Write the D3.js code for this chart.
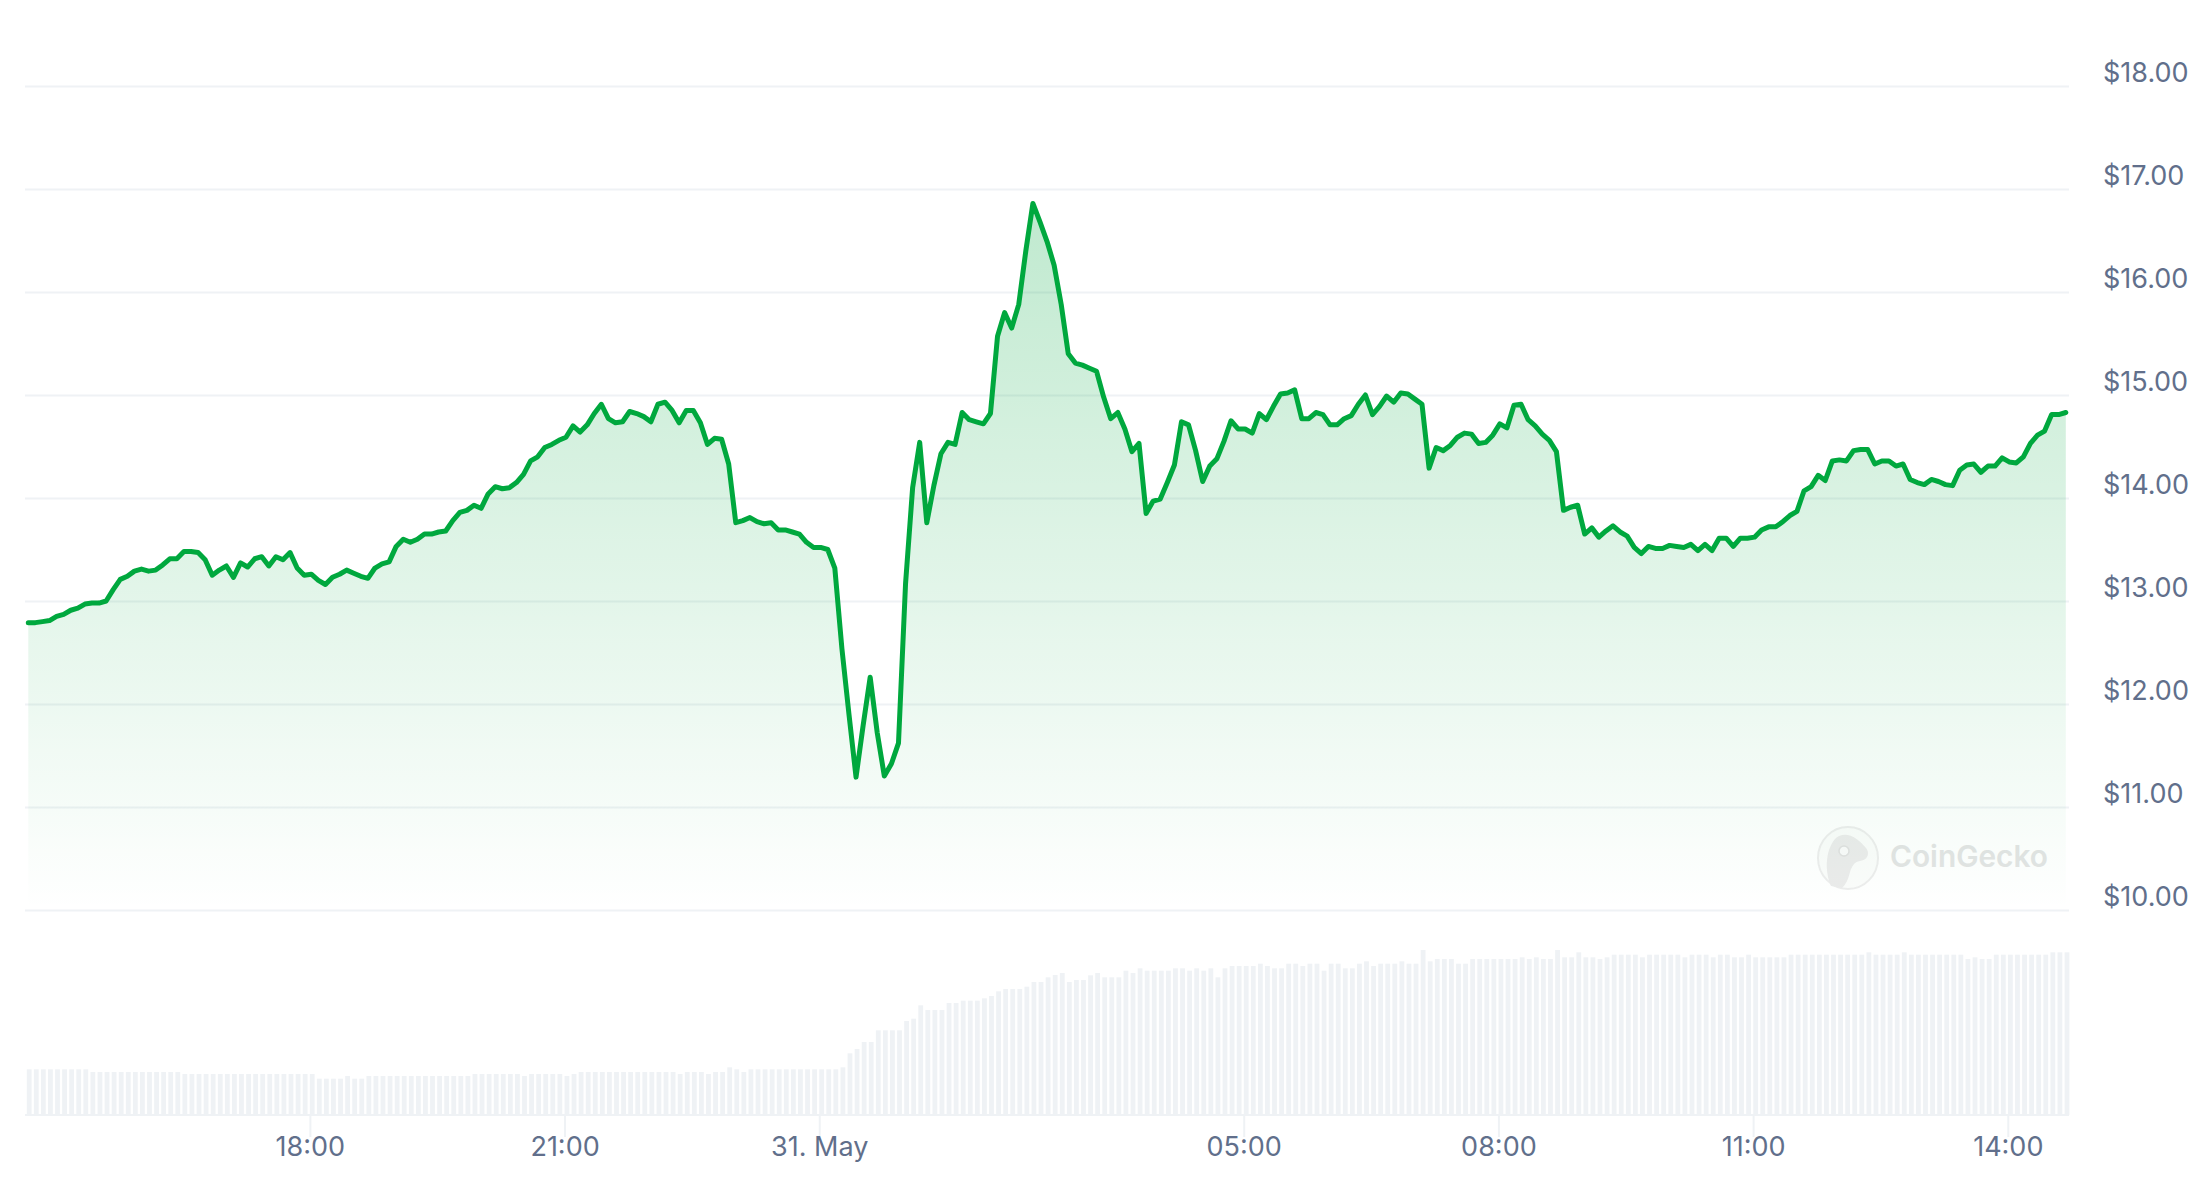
<!DOCTYPE html>
<html>
<head>
<meta charset="utf-8">
<script src="https://cdn.jsdelivr.net/npm/d3@7/dist/d3.min.js"></script>
<style>
html,body{margin:0;padding:0;background:#fff;}
svg{display:block;}
text{font-family:Inter,"Noto Sans",sans-serif;}
</style>
</head>
<body>
<svg id="chart" width="2206" height="1184"></svg>
<script>
const priceTicks = [10,11,12,13,14,15,16,17,18];
const timeTickLabels = ["18:00","21:00","31. May","05:00","08:00","11:00","14:00"];
const timeTickDates = [
  new Date(2024,4,30,18,0), new Date(2024,4,30,21,0), new Date(2024,4,31,0,0),
  new Date(2024,4,31,5,0), new Date(2024,4,31,8,0), new Date(2024,4,31,11,0), new Date(2024,4,31,14,0)
];
const startTime = new Date(2024,4,30,14,41);
const stepMinutes = 5;

const prices = [
12.79,12.79,12.80,12.81,12.85,12.87,12.91,12.93,12.97,12.98,
12.98,13.00,13.11,13.21,13.24,13.29,13.31,13.29,13.30,13.35,
13.41,13.41,13.48,13.48,13.47,13.40,13.25,13.30,13.34,13.23,
13.37,13.33,13.41,13.43,13.34,13.43,13.40,13.47,13.32,13.25,
13.26,13.20,13.16,13.23,13.26,13.30,13.27,13.24,13.22,13.32,
13.36,13.38,13.53,13.60,13.57,13.60,13.65,13.65,13.67,13.68,
13.78,13.86,13.88,13.93,13.90,14.04,14.11,14.09,14.10,14.15,
14.23,14.36,14.40,14.49,14.52,14.56,14.59,14.70,14.64,14.71,
14.82,14.91,14.77,14.73,14.74,14.84,14.82,14.79,14.74,14.91,
14.93,14.85,14.73,14.85,14.85,14.73,14.52,14.58,14.57,14.33,
13.76,13.78,13.81,13.77,13.75,13.76,13.69,13.69,13.67,13.65,
13.57,13.52,13.52,13.50,13.32,12.54,11.90,11.29,11.79,12.26,
11.72,11.30,11.42,11.62,13.17,14.10,14.54,13.76,14.12,14.43,
14.54,14.52,14.83,14.76,14.74,14.72,14.82,15.57,15.80,15.65,
15.88,16.40,16.86,16.68,16.49,16.26,15.88,15.40,15.31,15.29,
15.26,15.23,14.98,14.77,14.83,14.67,14.45,14.53,13.85,13.97,
13.99,14.15,14.32,14.74,14.71,14.46,14.16,14.31,14.38,14.55,
14.75,14.67,14.67,14.63,14.82,14.76,14.89,15.01,15.02,15.05,
14.77,14.77,14.83,14.81,14.71,14.71,14.77,14.80,14.91,15.00,
14.81,14.89,14.99,14.93,15.02,15.01,14.96,14.91,14.29,14.49,
14.46,14.51,14.59,14.63,14.62,14.53,14.54,14.61,14.72,14.68,
14.90,14.91,14.76,14.70,14.62,14.56,14.45,13.88,13.91,13.93,
13.65,13.71,13.62,13.68,13.73,13.67,13.63,13.52,13.46,13.53,
13.51,13.51,13.54,13.53,13.52,13.55,13.49,13.55,13.49,13.61,
13.61,13.53,13.61,13.61,13.62,13.69,13.72,13.72,13.77,13.83,
13.87,14.07,14.11,14.22,14.17,14.36,14.37,14.36,14.46,14.47,
14.47,14.33,14.36,14.36,14.31,14.33,14.18,14.15,14.13,14.18,
14.16,14.13,14.12,14.27,14.32,14.33,14.25,14.31,14.31,14.39,
14.35,14.34,14.40,14.53,14.61,14.65,14.81,14.81,14.83
];

const volumes = [
45.7,45.7,45.7,45.7,45.7,45.7,45.7,45.7,45.7,43,
43,43,43,43,43,43,43,43,43,43,
43,43,41,41,41,41,41,41,41,41,
41,41,41,41,41,41,41,41,41,41,
41,36.3,36.3,36.3,36.3,39,36.3,36.3,39,39,
39,39,39,39,39,39,39,39,39,39,
39,39,39,41,41,41,41,41,41,41,
39,41,41,41,41,41,39,41,43,43,
43,43,43,43,43,43,43,43,43,43,
43,43,41,43,43,43,41,43,43,47.7,
45.7,43,45.7,45.7,45.7,45.7,45.7,45.7,45.7,45.7,
45.7,45.7,45.7,45.7,45.7,47.7,61.7,66,73,73,
84.7,84.7,84.7,84.7,94,96.3,109.7,105,105,105,
112,112,114.3,114.3,114.3,116.7,119,123.7,126,126,
126,128.3,133,133,137.7,140,142,133,135,135,
139.7,142,137.7,137.7,137.7,144.3,142,146.7,144.3,144.3,
144.3,144.3,146.7,146.7,144.3,146.7,144.3,146.7,137.7,146.7,
149,149,149,149,151.3,149,146.7,146.7,151.3,151.3,
149,151.3,151.3,144.3,151.3,151.3,146.7,146.7,151.3,153.7,
149,151.3,151.3,151.3,153.7,151.3,151.3,165,153.7,156,
156,156,151.3,151.3,156,156,156,156,156,156,
156,157.7,156,157.7,156,156,165,157.7,157.7,162.7,
157.7,157.7,156,157.7,160.3,160.3,160.3,160.3,157.7,160.3,
160.3,160.3,160.3,160.3,157.7,160.3,160.3,160.3,157.7,160.3,
160.3,157.7,157.7,160.3,157.7,157.7,157.7,157.7,157.7,160.3,
160.3,160.3,160.3,160.3,160.3,160.3,160.3,160.3,160.3,160.3,
162.7,160.3,160.3,160.3,160.3,162.7,160.3,160.3,160.3,160.3,
160.3,160.3,160.3,160.3,156,157.7,156,156,160.3,160.3,
160.3,160.3,160.3,160.3,160.3,160.3,162.7,162.7,162.7
];

const times = prices.map((_, i) => new Date(+startTime + i * stepMinutes * 60000));

const COL = {line:"#00a83e", grid:"#eff2f5", text:"#616f8b", bar:"#eff2f5"};
const svg = d3.select("#chart");

const x = d3.scaleTime().domain([times[0], times[times.length-1]]).range([28.3, 2065.8]);
const y = d3.scaleLinear().domain([10,18]).range([910,86]);
const barX = d3.scaleLinear().domain([0, volumes.length-1]).range([29.2, 2067]);
const volBase = 1115;
const v = d3.scaleLinear().domain([0,165]).range([volBase, volBase-165]);

// gradient
const defs = svg.append("defs");
const grad = defs.append("linearGradient").attr("id","areaGrad")
  .attr("gradientUnits","userSpaceOnUse").attr("x1",0).attr("x2",0)
  .attr("y1",y(d3.max(prices))).attr("y2",y(10));
grad.append("stop").attr("offset",0).attr("stop-color",COL.line).attr("stop-opacity",0.25);
grad.append("stop").attr("offset",1).attr("stop-color",COL.line).attr("stop-opacity",0.0);

// grid
const gridG = svg.append("g").attr("transform","translate(25,0)")
  .call(d3.axisRight(y).tickValues(priceTicks).tickSize(2044).tickFormat(""));
gridG.select(".domain").remove();
gridG.selectAll(".tick line").attr("stroke",COL.grid).attr("stroke-width",2);

// y labels
const yLabels = svg.append("g").attr("transform","translate(2103,0)")
  .call(d3.axisRight(y).tickValues(priceTicks).tickSize(0).tickPadding(0)
    .tickFormat(d => "$" + d3.format(".2f")(d)));
yLabels.select(".domain").remove();
yLabels.selectAll("text").attr("text-anchor","start").attr("fill",COL.text)
  .attr("font-size",27).attr("dy","-5px").style("font-family","Inter,sans-serif");

// volume bars
svg.append("g").selectAll("rect").data(volumes).join("rect")
  .attr("x",(d,i)=>barX(i)-2.4).attr("width",4.8)
  .attr("y",d=>v(d)).attr("height",d=>volBase-v(d))
  .attr("fill",COL.bar);

// x axis
const xAxis = svg.append("g").attr("transform",`translate(0,${volBase})`)
  .call(d3.axisBottom(x).tickValues(timeTickDates).tickSize(22).tickPadding(0)
    .tickFormat((d,i)=>timeTickLabels[i]));
xAxis.select(".domain").remove();
xAxis.selectAll(".tick line").attr("stroke",COL.grid).attr("stroke-width",2);
xAxis.selectAll("text").attr("fill",COL.text).attr("font-size",27).style("font-family","Inter,sans-serif");
svg.append("line").attr("x1",25).attr("x2",2069).attr("y1",volBase).attr("y2",volBase)
  .attr("stroke",COL.grid).attr("stroke-width",2);

// watermark
const wm = svg.append("g").attr("opacity",0.9);
wm.append("ellipse").attr("cx",1848).attr("cy",858).attr("rx",30).attr("ry",31)
  .attr("fill","#fbfcfb").attr("stroke","#ececec").attr("stroke-width",2);
wm.append("path")
  .attr("d","M1831 886 C1824 870 1826 848 1836 838 C1846 830 1858 838 1866 848 C1870 853 1868 860 1860 861 C1854 862 1852 866 1850 872 C1848 880 1846 884 1842 888 Z")
  .attr("fill","#e9e9e9");
wm.append("circle").attr("cx",1844).attr("cy",851).attr("r",5).attr("fill","#fafafa").attr("stroke","#dddddd").attr("stroke-width",1.5);
wm.append("text").attr("x",1890).attr("y",867).attr("font-size",29.8).attr("font-weight",600)
  .attr("fill","#e1e2e2").text("CoinGecko");

// area & line
const pts = prices.map((p,i)=>({t:times[i],p}));
svg.append("path").datum(pts).attr("fill","url(#areaGrad)")
  .attr("d",d3.area().x(d=>x(d.t)).y0(y(10)).y1(d=>y(d.p)));
svg.append("path").datum(pts).attr("fill","none").attr("stroke",COL.line)
  .attr("stroke-width",5).attr("stroke-linejoin","round").attr("stroke-linecap","round")
  .attr("d",d3.line().x(d=>x(d.t)).y(d=>y(d.p)));
</script>
</body>
</html>
